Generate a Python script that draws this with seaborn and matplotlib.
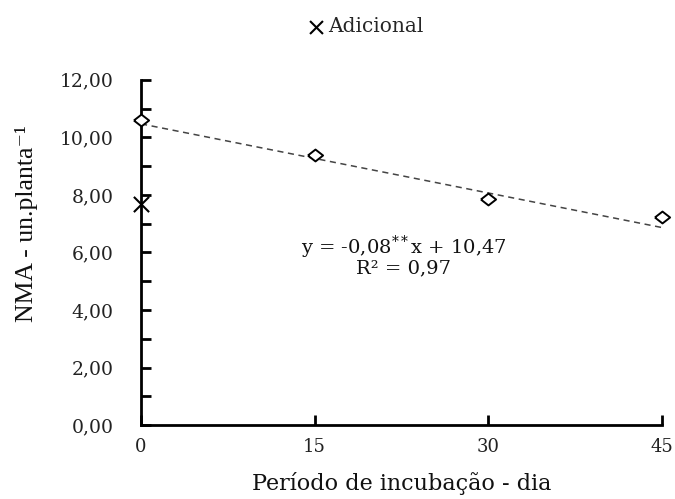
import numpy as np
import pandas as pd
import matplotlib
matplotlib.use("Agg")
import matplotlib.pyplot as plt
import seaborn as sns

# Incubation period (days) and NMA per plant
dias = [0, 15, 30, 45]
nma = [10.60, 9.38, 7.85, 7.25]

# Additional treatment
dia_adicional = [0]
nma_adicional = [7.68]

# Fitted linear model
coef_a = -0.08
coef_b = 10.47
r2 = 0.97

x_ticks = [0, 15, 30, 45]
y_ticks = [0, 2, 4, 6, 8, 10, 12]

sns.set_theme(style="white")
plt.rcParams["font.family"] = ["DejaVu Serif", "Liberation Serif"]
plt.rcParams["mathtext.fontset"] = "custom"
plt.rcParams["mathtext.rm"] = "DejaVu Serif"

fig = plt.figure(figsize=(6.75, 4.99), dpi=100)
ax = fig.add_axes([0.209, 0.148, 0.771, 0.692])

df = pd.DataFrame({"dia": dias, "nma": nma})
df_ad = pd.DataFrame({"dia": dia_adicional, "nma": nma_adicional})

xs = np.array([min(dias), max(dias)], dtype=float)
ax.plot(xs, coef_a * xs + coef_b, color="#444444", lw=1.1,
        dashes=(4, 3), zorder=2, clip_on=False)

# slightly wide open diamond
losango = [(-1.0, 0.0), (0.0, 0.78), (1.0, 0.0), (0.0, -0.78), (-1.0, 0.0)]
sns.scatterplot(data=df, x="dia", y="nma", ax=ax, marker=losango, s=120,
                facecolor="white", edgecolor="black", linewidth=1.4,
                zorder=3, clip_on=False)
sns.scatterplot(data=df_ad, x="dia", y="nma", ax=ax, marker="x", s=120,
                color="black", linewidth=1.5, zorder=4, clip_on=False,
                label="Adicional", legend=True)

ax.set_xlim(0, 45)
ax.set_ylim(0, 12)
ax.set_xticks(x_ticks)
ax.set_xticklabels([str(v) for v in x_ticks])
ax.set_yticks(y_ticks)
ax.set_yticklabels([f"{v:.2f}".replace(".", ",") for v in y_ticks])
ax.set_yticks(np.arange(1, 12, 2), minor=True)

for side in ["top", "right"]:
    ax.spines[side].set_visible(False)
for side in ["left", "bottom"]:
    ax.spines[side].set_color("black")
    ax.spines[side].set_linewidth(2.0)

ax.tick_params(axis="both", which="both", direction="in", color="black",
               width=2.0, labelsize=13.5, labelcolor="#222222")
ax.tick_params(axis="y", which="both", length=7, left=True, pad=20)
ax.tick_params(axis="x", which="major", length=7, bottom=True, pad=9,
               labelsize=13)

ax.set_xlabel("Período de incubação - dia", fontsize=16, labelpad=12,
              color="#111111")
ax.set_ylabel("NMA - un.planta⁻¹", fontsize=18.5, color="#111111",
              family=["Liberation Serif", "DejaVu Serif"])
ax.yaxis.set_label_coords(-0.198, 0.585)

eq = (f"y = {coef_a:.2f}".replace(".", ",") + r"$^{\mathregular{**}}$x + "
      + f"{coef_b:.2f}".replace(".", ","))
ax.text(22.7, 6.2, eq, ha="center", va="center", fontsize=14,
        color="#111111")
ax.text(22.7, 5.45, "R² = " + f"{r2:.2f}".replace(".", ","), ha="center",
        va="center", fontsize=14, color="#111111")

leg = ax.legend(loc="center", bbox_to_anchor=(0.43, 1.154), frameon=False,
                fontsize=14.5, handletextpad=0.1, handlelength=1.0,
                markerscale=0.85)

fig.savefig("out.png", dpi=100)
